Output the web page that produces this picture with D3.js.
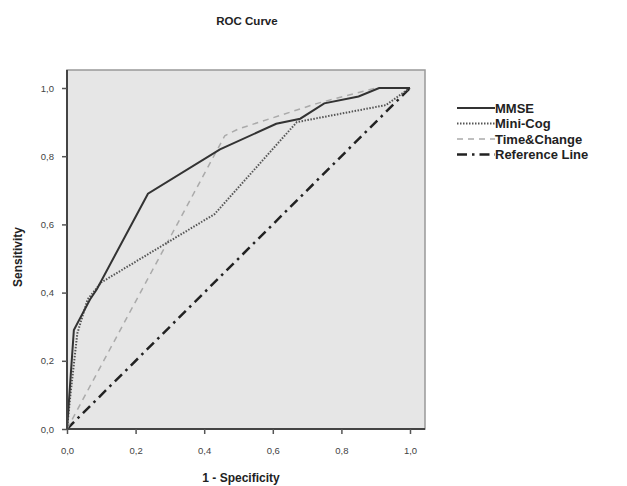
<!DOCTYPE html>
<html>
<head>
<meta charset="utf-8">
<title>ROC Curve</title>
<script src="https://cdn.jsdelivr.net/npm/d3@7"></script>
<style>
body { margin: 0; background: #fff; }
text { font-family: "Liberation Sans", Arial, sans-serif; }
.tick text { font-size: 9.5px; fill: #444; }
.label { font-size: 12px; font-weight: bold; fill: #222; }
.title { font-size: 11.5px; font-weight: bold; fill: #222; }
.legend text { font-size: 13px; font-weight: bold; fill: #222; }
</style>
</head>
<body>
<script>
// values
var mmse = [[0,0],[0.02,0.29],[0.067,0.38],[0.087,0.41],[0.236,0.69],[0.446,0.82],[0.61,0.895],[0.68,0.91],[0.75,0.955],[0.85,0.975],[0.91,1.0],[1,1]];
var miniCog = [[0,0],[0.01,0.1],[0.03,0.28],[0.06,0.38],[0.1,0.43],[0.43,0.63],[0.67,0.90],[0.93,0.95],[1,1]];
var timeChange = [[0,0],[0.46,0.86],[0.5,0.88],[0.73,0.955],[0.9,1.0],[1,1]];
var refLine = [[0,0],[1,1]];
var ticks = [0, 0.2, 0.4, 0.6, 0.8, 1.0];
var seriesNames = ["MMSE", "Mini-Cog", "Time&Change", "Reference Line"];

var width = 627, height = 486;
var frame = {left: 67, right: 425, top: 70, bottom: 429};

var x = d3.scaleLinear().domain([0, 1]).range([67, 410]);
var y = d3.scaleLinear().domain([0, 1]).range([429, 88]);
var fmt = function(d) { return d3.format(".1f")(d).replace(".", ","); };

var svg = d3.select("body").append("svg")
    .attr("width", width)
    .attr("height", height);

svg.append("rect")
    .attr("x", frame.left)
    .attr("y", frame.top)
    .attr("width", frame.right - frame.left)
    .attr("height", frame.bottom - frame.top)
    .attr("fill", "#e6e6e6")
    .attr("stroke", "#999")
    .attr("stroke-width", 1.5);

var styles = [
  {data: mmse, color: "#333", width: 2, dash: null},
  {data: miniCog, color: "#555", width: 2, dash: "1.5,1.5"},
  {data: timeChange, color: "#aaa", width: 1.5, dash: "6,5"},
  {data: refLine, color: "#222", width: 2.5, dash: "10,5,2.5,5"}
];

var line = d3.line()
    .x(function(d) { return x(d[0]); })
    .y(function(d) { return y(d[1]); });

// reference line at the bottom, MMSE on top
[3, 2, 1, 0].forEach(function(i) {
  var s = styles[i];
  svg.append("path")
      .datum(s.data)
      .attr("d", line)
      .attr("fill", "none")
      .attr("stroke", s.color)
      .attr("stroke-width", s.width)
      .attr("stroke-dasharray", s.dash);
});

svg.append("g")
    .attr("transform", "translate(0," + frame.bottom + ")")
    .call(d3.axisBottom(x).tickValues(ticks).tickFormat(fmt).tickSize(5).tickSizeOuter(0))
    .call(function(g) {
      g.select(".domain").attr("d", "M" + frame.left + ",0H" + frame.right).attr("stroke", "#444").attr("stroke-width", 2);
      g.selectAll(".tick line").attr("stroke", "#555").attr("stroke-width", 1.5);
      g.selectAll(".tick text").attr("y", 16).attr("dy", "0.9em");
    });

svg.append("g")
    .attr("transform", "translate(" + frame.left + ",0)")
    .call(d3.axisLeft(y).tickValues(ticks).tickFormat(fmt).tickSize(5).tickSizeOuter(0))
    .call(function(g) {
      g.select(".domain").attr("d", "M0," + frame.top + "V" + frame.bottom).attr("stroke", "#444").attr("stroke-width", 2);
      g.selectAll(".tick line").attr("stroke", "#555").attr("stroke-width", 1.5);
      g.selectAll(".tick text").attr("x", -13);
    });

svg.append("text")
    .attr("class", "title")
    .attr("x", 247)
    .attr("y", 25)
    .attr("text-anchor", "middle")
    .text("ROC Curve");

svg.append("text")
    .attr("class", "label")
    .attr("x", 241)
    .attr("y", 482)
    .attr("text-anchor", "middle")
    .text("1 - Specificity");

svg.append("text")
    .attr("class", "label")
    .attr("transform", "translate(22,257) rotate(-90)")
    .attr("text-anchor", "middle")
    .text("Sensitivity");

var legend = svg.selectAll(".legend")
    .data(seriesNames)
  .enter().append("g")
    .attr("class", "legend")
    .attr("transform", function(d, i) { return "translate(457," + (108 + i * 15.5) + ")"; });

legend.append("line")
    .attr("x1", 0)
    .attr("x2", 38)
    .attr("stroke", function(d, i) { return styles[i].color; })
    .attr("stroke-width", function(d, i) { return styles[i].width; })
    .attr("stroke-dasharray", function(d, i) { return styles[i].dash; });

legend.append("text")
    .attr("x", 38)
    .attr("dy", "0.35em")
    .text(function(d) { return d; });
</script>
</body>
</html>
